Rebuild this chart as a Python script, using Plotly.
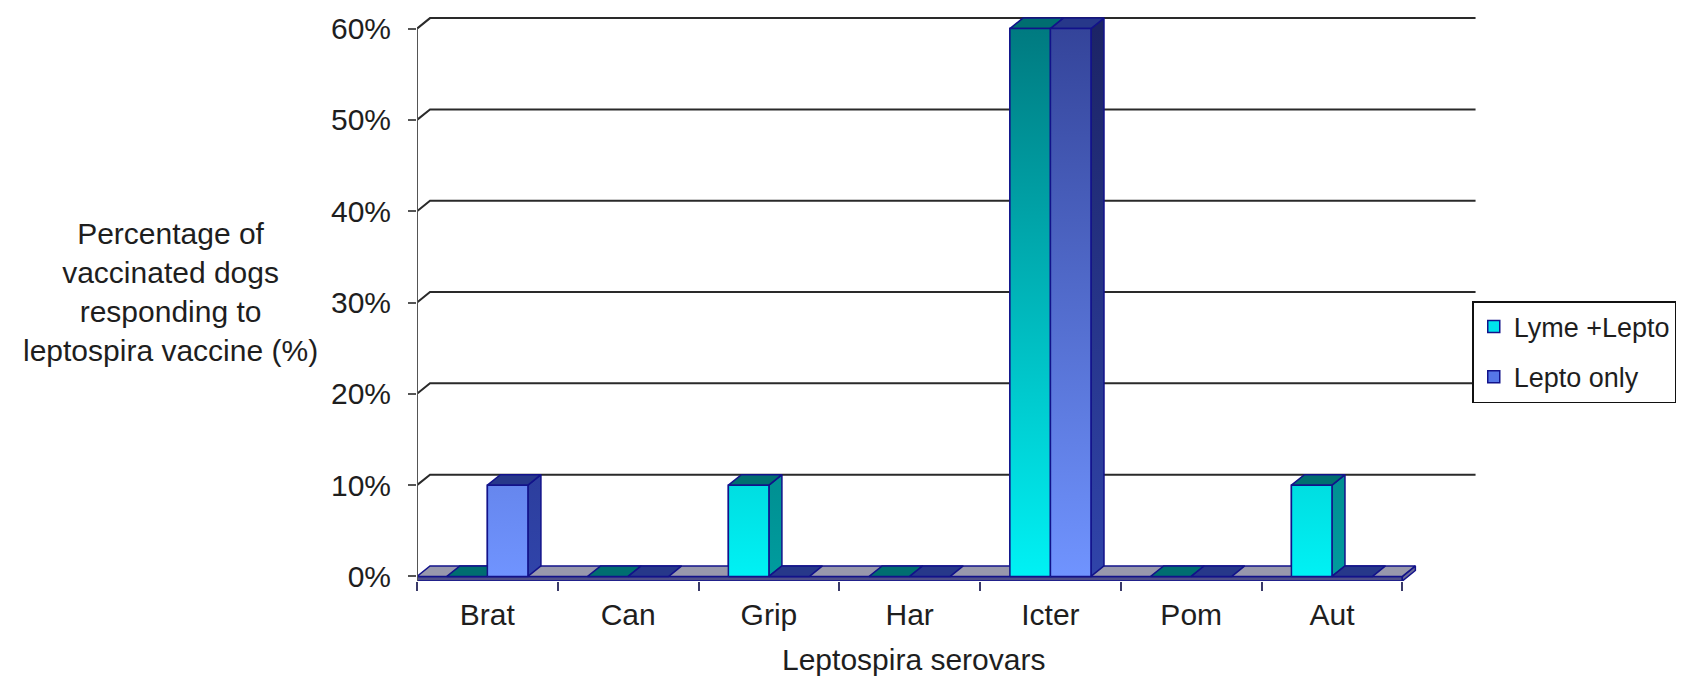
import plotly.graph_objects as go

# ---------------- data ----------------
categories = ["Brat", "Can", "Grip", "Har", "Icter", "Pom", "Aut"]
lyme_lepto = [0, 0, 10, 0, 60, 0, 10]
lepto_only = [10, 0, 0, 0, 60, 0, 0]
series_names = ["Lyme +Lepto", "Lepto only"]
y_ticks = [0, 10, 20, 30, 40, 50, 60]
y_tick_labels = ["0%", "10%", "20%", "30%", "40%", "50%", "60%"]
x_title = "Leptospira serovars"
y_title = "Percentage of<br>vaccinated dogs<br>responding to<br>leptospira vaccine (%)"

# ---------------- style / geometry ----------------
BAR_W = 0.288          # width of one bar (category units)
DX = 0.0924            # 3-D depth offset, x (category units)
DY = 1.15              # 3-D depth offset, y (percent units)
FLOOR_T = 0.5          # floor slab thickness (percent units)
X_MIN, X_MAX = -0.5, 7.08
Y_MIN, Y_MAX = -0.5, 61.6
GRID_END = 7.02
EDGE = "#12128a"
FONT = "Arial, 'Liberation Sans', sans-serif"
TXT = "#1e1e1e"

styles = [
    dict(legend="#00e4ec", front=["#00f2f5", "#007a80"], side=["#009c9e", "#00585c"], top="#006e70"),
    dict(legend="#5577e8", front=["#7094ff", "#34449a"], side=["#3044aa", "#1c2466"], top="#27388a"),
]
series_values = [lyme_lepto, lepto_only]

fig = go.Figure()

# legend-carrying bars (front faces; gradients overlaid below)
for s in range(2):
    fig.add_trace(go.Bar(
        x=list(range(len(categories))), y=series_values[s], name=series_names[s],
        marker=dict(color=styles[s]["legend"], line=dict(color=EDGE, width=1.5)),
        legendgroup=str(s), hoverinfo="skip",
    ))

def poly(xs, ys, color=None, grad=None, width=1.5):
    kw = dict(x=xs + [xs[0]], y=ys + [ys[0]], mode="lines", fill="toself",
              line=dict(color=EDGE, width=width), showlegend=False, hoverinfo="skip")
    if grad is not None:
        kw["fillgradient"] = dict(type="vertical", colorscale=[[0, grad[0]], [1, grad[1]]],
                                  start=0, stop=60)
        kw["fillcolor"] = grad[0]
    else:
        kw["fillcolor"] = color
    fig.add_trace(go.Scatter(**kw))

# back-wall gridlines with side-wall diagonals
gx, gy = [], []
for v in y_ticks[1:]:
    gx += [X_MIN, X_MIN + DX, GRID_END, None]
    gy += [v, v + DY, v + DY, None]
fig.add_trace(go.Scatter(x=gx, y=gy, mode="lines", line=dict(color="#2a2a2a", width=2),
                         showlegend=False, hoverinfo="skip"))

# floor slab
n = len(categories)
fl, fr = -0.5, n - 0.5
poly([fl, fr, fr, fl], [0, 0, -FLOOR_T, -FLOOR_T], color="#50508a")
poly([fr, fr + DX, fr + DX, fr], [0, DY, DY - FLOOR_T, -FLOOR_T], color="#6a6a98")
poly([fl, fr, fr + DX, fl + DX], [0, 0, DY, DY], color="#9898ac")

# y axis line
fig.add_trace(go.Scatter(x=[X_MIN, X_MIN], y=[-FLOOR_T, y_ticks[-1]], mode="lines",
                         line=dict(color="#555555", width=2), showlegend=False, hoverinfo="skip"))

# 3-D bars, drawn left to right
for i in range(n):
    for s in range(2):
        h = series_values[s][i]
        L = i - BAR_W + s * BAR_W
        R = L + BAR_W
        st = styles[s]
        if h > 0:
            poly([R, R + DX, R + DX, R], [0, DY, h + DY, h], grad=st["side"])
        poly([L, R, R + DX, L + DX], [h, h, h + DY, h + DY], color=st["top"])
        if h > 0:
            poly([L, R, R, L], [0, 0, h, h], grad=st["front"])

# page body has an 8px margin: figure is 8px smaller and margins shifted accordingly
fig.update_layout(
    width=1684, height=671,
    margin=dict(l=409, r=208, t=4, b=98),
    paper_bgcolor="white", plot_bgcolor="white",
    barmode="group", bargap=1 - 2 * BAR_W, bargroupgap=0,
    font=dict(family=FONT, size=30, color=TXT),
    showlegend=True,
    legend=dict(x=0.989, y=0.4938, xanchor="left", yanchor="top",
                bordercolor="#111111", borderwidth=1.5, bgcolor="white",
                font=dict(size=27, color=TXT), tracegroupgap=12, itemclick=False,
                itemdoubleclick=False),
    xaxis=dict(range=[X_MIN, X_MAX], tickmode="array", tickvals=list(range(n)),
               ticktext=categories, ticks="", showgrid=False, zeroline=False, showline=False,
               ticklabelstandoff=13,
               minor=dict(tickmode="array", tickvals=[k - 0.5 for k in range(n + 1)],
                          ticks="outside", ticklen=9, tickwidth=2, tickcolor="#3a3a6a",
                          showgrid=False)),
    yaxis=dict(range=[Y_MIN, Y_MAX], tickmode="array", tickvals=y_ticks, ticktext=y_tick_labels,
               ticks="outside", ticklen=8, tickwidth=2, tickcolor="#555555",
               showgrid=False, zeroline=False, showline=False, ticklabelstandoff=11),
    annotations=[
        dict(text=y_title, xref="paper", yref="paper", x=-0.2306, y=0.5095,
             xanchor="center", yanchor="middle", showarrow=False, align="center",
             font=dict(size=30, color=TXT)),
        dict(text=x_title, xref="paper", yref="paper", x=0.465, y=-0.1388,
             xanchor="center", yanchor="middle", showarrow=False,
             font=dict(size=30, color=TXT)),
    ],
)

fig.write_html("out.html")
